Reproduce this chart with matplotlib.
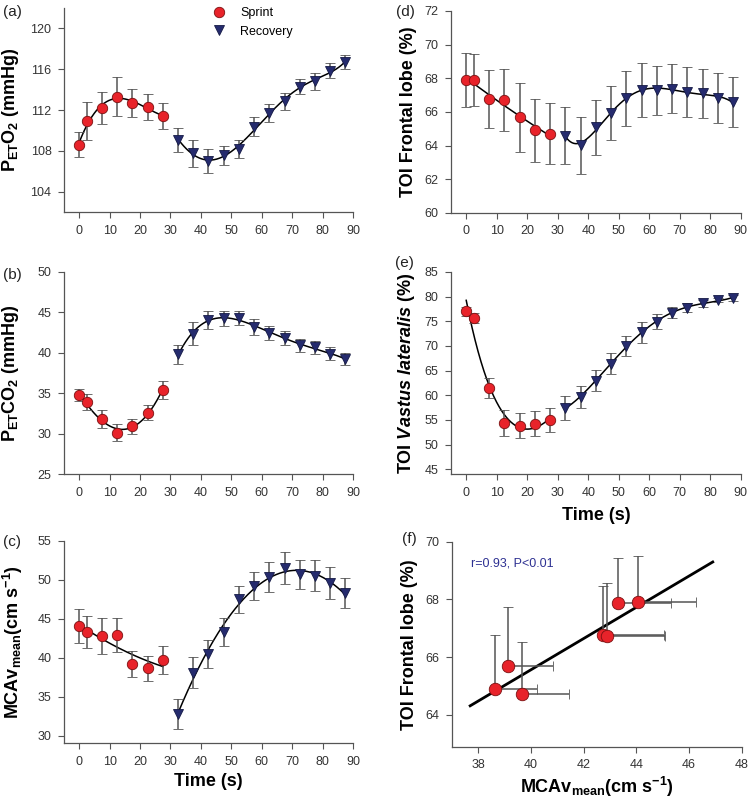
import numpy as np
import matplotlib
matplotlib.use('Agg')
import matplotlib.pyplot as plt
from matplotlib.lines import Line2D

plt.rcParams['font.family'] = ['Liberation Sans', 'DejaVu Sans']
plt.rcParams['mathtext.fontset'] = 'custom'
plt.rcParams['mathtext.rm'] = 'Liberation Sans:bold'
plt.rcParams['mathtext.it'] = 'Liberation Sans:italic:bold'
plt.rcParams['mathtext.bf'] = 'Liberation Sans:bold'

# time points (s)
t_sprint = [0, 2.5, 7.5, 12.5, 17.5, 22.5, 27.5]
t_recovery = [32.5, 37.5, 42.5, 47.5, 52.5, 57.5, 62.5, 67.5, 72.5, 77.5, 82.5, 87.5]

# (a) PETO2 (mmHg)
peto2_sprint = [108.6, 110.9, 112.2, 113.3, 112.7, 112.3, 111.4]
peto2_sprint_sd = [1.2, 1.85, 1.55, 1.9, 1.4, 1.25, 1.3]
peto2_recovery = [109.1, 107.75, 107.0, 107.55, 108.2, 110.35, 111.7, 112.85, 114.3, 114.8, 115.85, 116.7]
peto2_recovery_sd = [1.18, 1.35, 1.2, 0.97, 0.87, 0.92, 0.9, 0.85, 0.7, 0.8, 0.75, 0.67]

# (b) PETCO2 (mmHg)
petco2_sprint = [34.8, 33.9, 31.8, 30.1, 30.9, 32.6, 35.4]
petco2_sprint_sd = [0.74, 0.93, 1.08, 1.05, 0.93, 0.93, 1.11]
petco2_recovery = [39.77, 42.36, 44.07, 44.23, 44.3, 43.18, 42.45, 41.85, 40.92, 40.67, 39.86, 39.2]
petco2_recovery_sd = [1.2, 1.46, 1.1, 0.9, 0.85, 0.97, 0.88, 0.87, 0.8, 0.8, 0.82, 0.78]

# (c) MCAv mean (cm/s)
mcav_sprint = [44.05, 43.3, 42.75, 42.9, 39.15, 38.65, 39.65]
mcav_sprint_sd = [2.22, 2.03, 2.3, 2.2, 1.68, 1.6, 1.8]
mcav_recovery = [32.8, 38.05, 40.47, 43.3, 47.49, 49.2, 50.43, 51.5, 50.7, 50.55, 49.57, 48.37]
mcav_recovery_sd = [1.9, 2.0, 1.82, 1.75, 1.69, 1.8, 1.93, 2.05, 1.88, 1.97, 2.05, 1.93]

# (d) TOI frontal lobe (%)
toif_sprint = [67.9, 67.88, 66.77, 66.72, 65.7, 64.9, 64.72]
toif_sprint_sd = [1.6, 1.55, 1.7, 1.85, 2.05, 1.88, 1.82]
toif_recovery = [64.6, 64.01, 65.08, 65.95, 66.81, 67.3, 67.3, 67.38, 67.2, 67.1, 66.82, 66.58]
toif_recovery_sd = [1.67, 1.72, 1.64, 1.62, 1.63, 1.58, 1.46, 1.47, 1.5, 1.46, 1.48, 1.48]

# (e) TOI vastus lateralis (%)
toiv_sprint = [77.07, 75.72, 61.47, 54.34, 53.87, 54.28, 55.02]
toiv_sprint_sd = [0.9, 1.0, 2.0, 2.6, 2.6, 2.55, 2.4]
toiv_recovery = [57.44, 59.72, 62.95, 66.41, 70.04, 72.8, 74.9, 76.76, 77.74, 78.61, 79.35, 79.72]
toiv_recovery_sd = [2.35, 2.2, 2.08, 2.1, 2.05, 2.1, 1.5, 1.18, 0.87, 0.67, 0.4, 0.57]

RED = '#e8232a'
NAVY = '#252b6e'
BAR = '#555555'
TICK = '#333333'


def fit_line(ax, t, y, deg):
    # smooth fitted curve through one phase
    tt = np.linspace(t[0], t[-1], 200)
    if deg == 'exp':
        # y = a + b*exp(-t/tau) + c*t, tau by grid search
        t_arr, y_arr = np.asarray(t, float), np.asarray(y, float)
        best = None
        for tau in np.linspace(1, 20, 381):
            A = np.column_stack([np.ones_like(t_arr), np.exp(-t_arr / tau), t_arr])
            coef = np.linalg.lstsq(A, y_arr, rcond=None)[0]
            err = np.sum((A @ coef - y_arr) ** 2)
            if best is None or err < best[0]:
                best = (err, tau, coef)
        _, tau, coef = best
        yy = coef[0] + coef[1] * np.exp(-tt / tau) + coef[2] * tt
    else:
        yy = np.polyval(np.polyfit(t, y, deg), tt)
    ax.plot(tt, yy, color='black', lw=1.1, zorder=2)


def style(ax, xlim, ylim, yticks, xticks=range(0, 91, 10)):
    ax.set_xlim(*xlim)
    ax.set_ylim(*ylim)
    ax.set_yticks(yticks)
    ax.set_xticks(list(xticks))
    for s in ['top', 'right']:
        ax.spines[s].set_visible(False)
    for s in ['left', 'bottom']:
        ax.spines[s].set_color('#555555')
        ax.spines[s].set_linewidth(0.9)
    ax.tick_params(direction='out', length=4, width=0.8, color='#555555',
                   labelsize=9, labelcolor=TICK, pad=5)


def time_panel(ax, ys, ys_sd, yr, yr_sd, deg_s, deg_r):
    fit_line(ax, t_sprint, ys, deg_s)
    fit_line(ax, t_recovery, yr, deg_r)
    ax.errorbar(t_sprint, ys, yerr=ys_sd, fmt='o', ms=7.5, mfc=RED, mec='#7a1010',
                mew=0.6, ecolor=BAR, elinewidth=1.1, capsize=3.5, capthick=1.1, zorder=3)
    ax.errorbar(t_recovery, yr, yerr=yr_sd, fmt='v', ms=7.5, mfc=NAVY, mec='#151a45',
                mew=0.6, ecolor=BAR, elinewidth=1.1, capsize=3.5, capthick=1.1, zorder=3)


fig = plt.figure(figsize=(7.5, 8.01), dpi=100)

ax_a = fig.add_axes([0.0853, 0.7353, 0.3853, 0.2547])
ax_b = fig.add_axes([0.0853, 0.4082, 0.3853, 0.2526])
ax_c = fig.add_axes([0.0853, 0.0720, 0.3853, 0.2526])
ax_d = fig.add_axes([0.6013, 0.7341, 0.3863, 0.2522])
ax_e = fig.add_axes([0.6013, 0.4079, 0.3863, 0.2526])
ax_f = fig.add_axes([0.6023, 0.0678, 0.3867, 0.2559])

time_panel(ax_a, peto2_sprint, peto2_sprint_sd, peto2_recovery, peto2_recovery_sd, 3, 5)
style(ax_a, (-5, 90), (102, 122), [104, 108, 112, 116, 120])
ax_a.set_ylabel('P$_{\\mathrm{ET}}$O$_2$ (mmHg)', fontsize=13, fontweight='bold')
ax_a.yaxis.set_label_coords(-0.15, 0.5)
handles = [Line2D([], [], ls='none', marker='o', ms=7.5, mfc=RED, mec='#7a1010', mew=0.6),
           Line2D([], [], ls='none', marker='v', ms=7.5, mfc=NAVY, mec='#151a45', mew=0.6)]
ax_a.legend(handles, ['Sprint', 'Recovery'], loc='upper left', bbox_to_anchor=(0.515, 1.005),
            frameon=False, fontsize=9, handletextpad=1.2, labelspacing=0.55,
            borderpad=0, borderaxespad=0, handlelength=1.0)

time_panel(ax_b, petco2_sprint, petco2_sprint_sd, petco2_recovery, petco2_recovery_sd, 3, 4)
style(ax_b, (-5, 90), (25, 50), range(25, 51, 5))
ax_b.set_ylabel('P$_{\\mathrm{ET}}$CO$_2$ (mmHg)', fontsize=13, fontweight='bold')
ax_b.yaxis.set_label_coords(-0.15, 0.5)

time_panel(ax_c, mcav_sprint, mcav_sprint_sd, mcav_recovery, mcav_recovery_sd, 2, 3)
style(ax_c, (-5, 90), (29, 55), range(30, 56, 5))
ax_c.set_ylabel('MCAv$_{\\mathrm{mean}}$(cm s$^{-1}$)', fontsize=13, fontweight='bold')
ax_c.yaxis.set_label_coords(-0.135, 0.5)
ax_c.set_xlabel('Time (s)', fontsize=13, fontweight='bold', labelpad=4)

time_panel(ax_d, toif_sprint, toif_sprint_sd, toif_recovery, toif_recovery_sd, 2, 5)
style(ax_d, (-5, 90), (60, 72), range(60, 73, 2))
ax_d.set_ylabel('TOI Frontal lobe (%)', fontsize=13, fontweight='bold')
ax_d.yaxis.set_label_coords(-0.117, 0.5)

time_panel(ax_e, toiv_sprint, toiv_sprint_sd, toiv_recovery, toiv_recovery_sd, 'exp', 4)
style(ax_e, (-5, 90), (44, 85), range(45, 86, 5))
ax_e.set_ylabel('TOI $\\mathit{Vastus\\ lateralis}$ (%)', fontsize=13, fontweight='bold')
ax_e.yaxis.set_label_coords(-0.117, 0.5)
ax_e.set_xlabel('Time (s)', fontsize=13, fontweight='bold', labelpad=6)

# (f) correlation of sprint means: MCAv vs TOI frontal
slope, intercept = np.polyfit(mcav_sprint, toif_sprint, 1)
xl = np.array([37.7, 46.9])
ax_f.plot(xl, intercept + slope * xl, color='black', lw=2, zorder=2)
zeros = np.zeros(len(mcav_sprint))
ax_f.errorbar(mcav_sprint, toif_sprint, yerr=[zeros, toif_sprint_sd],
              xerr=[zeros, mcav_sprint_sd], fmt='o', ms=9, mfc=RED, mec='#7a1010',
              mew=0.6, ecolor=BAR, elinewidth=1.1, capsize=3.5, capthick=1.1, zorder=3)
style(ax_f, (37, 48), (62.9, 70), [64, 66, 68, 70], xticks=range(38, 49, 2))
ax_f.set_ylabel('TOI Frontal lobe (%)', fontsize=13, fontweight='bold')
ax_f.yaxis.set_label_coords(-0.116, 0.5)
ax_f.set_xlabel('MCAv$_{\\mathrm{mean}}$(cm s$^{-1}$)', fontsize=13, fontweight='bold', labelpad=3)
ax_f.text(0.066, 0.896, 'r=0.93, P<0.01', transform=ax_f.transAxes, fontsize=9,
          color='#2e3192', va='center', ha='left')

# panel letters
for lbl, px, py in [('(a)', 3, 12), ('(b)', 3, 275), ('(c)', 3, 542),
                    ('(d)', 396, 12), ('(e)', 395, 263), ('(f)', 402, 539)]:
    fig.text(px / 750, 1 - py / 801, lbl, fontsize=11, ha='left', va='center', color='#222222')

fig.savefig('out.png', dpi=100)
